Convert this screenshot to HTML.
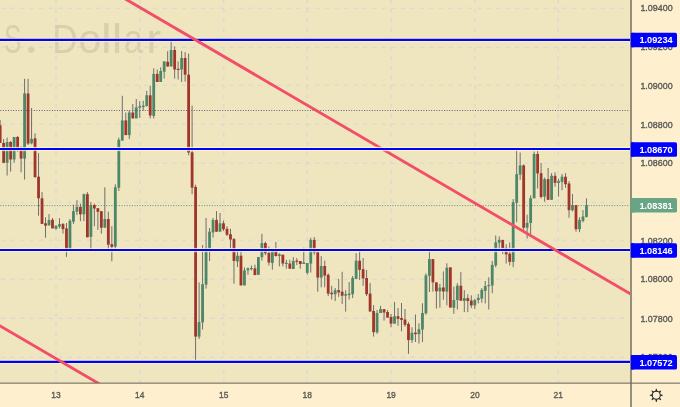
<!DOCTYPE html><html><head><meta charset="utf-8"><title>chart</title>
<style>html,body{margin:0;padding:0;background:#fef0cf;}body{width:680px;height:407px;overflow:hidden;}svg{display:block;}text{font-family:"Liberation Sans",sans-serif;}</style></head><body>
<svg width="680" height="407" viewBox="0 0 680 407">
<defs><clipPath id="cp"><rect x="0" y="0" width="630.0" height="383.0"/></clipPath>
<filter id="bl" x="-5%" y="-5%" width="110%" height="110%"><feGaussianBlur stdDeviation="0.35"/></filter>
<filter id="bt" x="-5%" y="-20%" width="110%" height="140%"><feGaussianBlur stdDeviation="0.25"/></filter>
</defs>
<rect width="680" height="407" fill="#fef0cf"/>
<rect x="0" y="0" width="630.0" height="383.0" fill="#efe5bf"/>
<g clip-path="url(#cp)">
<g fill="#d9cfad" font-size="40.2" filter="url(#bl)">
<text transform="translate(3.93,52.9) scale(0.649,1)">S</text>
<text transform="translate(52.29,52.9) scale(0.873,1)">D</text>
<text transform="translate(78.62,52.9) scale(1.021,1)">o</text>
<text transform="translate(101.04,52.9) scale(1.190,1)">l</text>
<text transform="translate(111.64,52.9) scale(1.190,1)">l</text>
<text transform="translate(123.75,52.9) scale(0.864,1)">a</text>
<text transform="translate(146.44,52.9) scale(1.094,1)">r</text>
<circle cx="31.25" cy="49.6" r="3.3"/>
</g>
<line x1="1.1" y1="8.2" x2="629.0" y2="8.2" stroke="#d7d7d6" stroke-width="1.1" stroke-dasharray="4.1 5.42"/>
<line x1="1.1" y1="47.2" x2="629.0" y2="47.2" stroke="#d7d7d6" stroke-width="1.1" stroke-dasharray="4.1 5.42"/>
<line x1="1.1" y1="85.3" x2="629.0" y2="85.3" stroke="#d7d7d6" stroke-width="1.1" stroke-dasharray="4.1 5.42"/>
<line x1="1.1" y1="124.3" x2="629.0" y2="124.3" stroke="#d7d7d6" stroke-width="1.1" stroke-dasharray="4.1 5.42"/>
<line x1="1.1" y1="163.2" x2="629.0" y2="163.2" stroke="#d7d7d6" stroke-width="1.1" stroke-dasharray="4.1 5.42"/>
<line x1="1.1" y1="202.2" x2="629.0" y2="202.2" stroke="#d7d7d6" stroke-width="1.1" stroke-dasharray="4.1 5.42"/>
<line x1="1.1" y1="240.3" x2="629.0" y2="240.3" stroke="#d7d7d6" stroke-width="1.1" stroke-dasharray="4.1 5.42"/>
<line x1="1.1" y1="279.2" x2="629.0" y2="279.2" stroke="#d7d7d6" stroke-width="1.1" stroke-dasharray="4.1 5.42"/>
<line x1="1.1" y1="318.4" x2="629.0" y2="318.4" stroke="#d7d7d6" stroke-width="1.1" stroke-dasharray="4.1 5.42"/>
<line x1="1.1" y1="357.2" x2="629.0" y2="357.2" stroke="#d7d7d6" stroke-width="1.1" stroke-dasharray="4.1 5.42"/>
<line x1="56.0" y1="-0.66" x2="56.0" y2="383.0" stroke="#d7d7d6" stroke-width="1.2" stroke-dasharray="3.9 5.61"/>
<line x1="139.8" y1="-0.66" x2="139.8" y2="383.0" stroke="#d7d7d6" stroke-width="1.2" stroke-dasharray="3.9 5.61"/>
<line x1="223.8" y1="-0.66" x2="223.8" y2="383.0" stroke="#d7d7d6" stroke-width="1.2" stroke-dasharray="3.9 5.61"/>
<line x1="307.2" y1="-0.66" x2="307.2" y2="383.0" stroke="#d7d7d6" stroke-width="1.2" stroke-dasharray="3.9 5.61"/>
<line x1="391.1" y1="-0.66" x2="391.1" y2="383.0" stroke="#d7d7d6" stroke-width="1.2" stroke-dasharray="3.9 5.61"/>
<line x1="475.0" y1="-0.66" x2="475.0" y2="383.0" stroke="#d7d7d6" stroke-width="1.2" stroke-dasharray="3.9 5.61"/>
<line x1="558.3" y1="-0.66" x2="558.3" y2="383.0" stroke="#d7d7d6" stroke-width="1.2" stroke-dasharray="3.9 5.61"/>
<line x1="0.3" y1="110.5" x2="629.5" y2="110.5" stroke="#62626e" stroke-width="1" stroke-dasharray="1 1.58"/>
<line x1="0.3" y1="205.6" x2="629.5" y2="205.6" stroke="#5b9877" stroke-width="1" stroke-dasharray="1 1.58"/>
<g filter="url(#bl)">
<line x1="0.15" y1="120.1" x2="0.15" y2="142.9" stroke="#6f6f6f" stroke-width="1"/>
<rect x="-1.25" y="125.3" width="2.8" height="17.6" fill="#a0362a"/>
<line x1="3.64" y1="139.0" x2="3.64" y2="162.8" stroke="#6f6f6f" stroke-width="1"/>
<rect x="2.24" y="142.9" width="2.8" height="19.9" fill="#a0362a"/>
<line x1="7.13" y1="137.7" x2="7.13" y2="175.5" stroke="#6f6f6f" stroke-width="1"/>
<rect x="5.73" y="142.0" width="2.8" height="20.8" fill="#4c8767"/>
<line x1="10.62" y1="141.0" x2="10.62" y2="171.7" stroke="#6f6f6f" stroke-width="1"/>
<rect x="9.22" y="142.0" width="2.8" height="17.5" fill="#a0362a"/>
<line x1="14.11" y1="137.0" x2="14.11" y2="162.8" stroke="#6f6f6f" stroke-width="1"/>
<rect x="12.71" y="137.0" width="2.8" height="22.5" fill="#4c8767"/>
<line x1="17.60" y1="136.0" x2="17.60" y2="151.7" stroke="#6f6f6f" stroke-width="1"/>
<rect x="16.20" y="137.0" width="2.8" height="11.8" fill="#a0362a"/>
<line x1="21.09" y1="146.3" x2="21.09" y2="172.3" stroke="#6f6f6f" stroke-width="1"/>
<rect x="19.69" y="148.8" width="2.8" height="9.8" fill="#a0362a"/>
<line x1="24.58" y1="78.8" x2="24.58" y2="179.6" stroke="#6f6f6f" stroke-width="1"/>
<rect x="23.18" y="93.5" width="2.8" height="65.1" fill="#4c8767"/>
<line x1="28.07" y1="78.8" x2="28.07" y2="145.0" stroke="#6f6f6f" stroke-width="1"/>
<rect x="26.67" y="93.5" width="2.8" height="50.1" fill="#a0362a"/>
<line x1="31.56" y1="108.0" x2="31.56" y2="144.3" stroke="#6f6f6f" stroke-width="1"/>
<rect x="30.16" y="138.9" width="2.8" height="4.4" fill="#4c8767"/>
<line x1="35.05" y1="133.3" x2="35.05" y2="178.0" stroke="#6f6f6f" stroke-width="1"/>
<rect x="33.65" y="138.4" width="2.8" height="38.6" fill="#a0362a"/>
<line x1="38.54" y1="153.2" x2="38.54" y2="215.7" stroke="#6f6f6f" stroke-width="1"/>
<rect x="37.14" y="176.7" width="2.8" height="21.6" fill="#a0362a"/>
<line x1="42.03" y1="192.1" x2="42.03" y2="223.9" stroke="#6f6f6f" stroke-width="1"/>
<rect x="40.63" y="198.3" width="2.8" height="25.6" fill="#a0362a"/>
<line x1="45.52" y1="217.3" x2="45.52" y2="237.7" stroke="#6f6f6f" stroke-width="1"/>
<rect x="44.12" y="223.3" width="2.8" height="2.4" fill="#a0362a"/>
<line x1="49.01" y1="214.1" x2="49.01" y2="225.4" stroke="#6f6f6f" stroke-width="1"/>
<rect x="47.61" y="220.0" width="2.8" height="5.4" fill="#4c8767"/>
<line x1="52.50" y1="218.0" x2="52.50" y2="228.4" stroke="#6f6f6f" stroke-width="1"/>
<rect x="51.10" y="219.8" width="2.8" height="8.6" fill="#a0362a"/>
<line x1="55.99" y1="225.0" x2="55.99" y2="229.5" stroke="#6f6f6f" stroke-width="1"/>
<rect x="54.59" y="225.9" width="2.8" height="3.0" fill="#4c8767"/>
<line x1="59.48" y1="218.2" x2="59.48" y2="228.4" stroke="#6f6f6f" stroke-width="1"/>
<rect x="58.08" y="224.1" width="2.8" height="2.5" fill="#4c8767"/>
<line x1="62.97" y1="223.0" x2="62.97" y2="233.6" stroke="#6f6f6f" stroke-width="1"/>
<rect x="61.57" y="224.1" width="2.8" height="5.0" fill="#a0362a"/>
<line x1="66.46" y1="223.0" x2="66.46" y2="256.9" stroke="#6f6f6f" stroke-width="1"/>
<rect x="65.06" y="228.4" width="2.8" height="21.1" fill="#a0362a"/>
<line x1="69.95" y1="219.1" x2="69.95" y2="249.5" stroke="#6f6f6f" stroke-width="1"/>
<rect x="68.55" y="220.7" width="2.8" height="28.8" fill="#4c8767"/>
<line x1="73.44" y1="204.7" x2="73.44" y2="224.0" stroke="#6f6f6f" stroke-width="1"/>
<rect x="72.04" y="211.2" width="2.8" height="10.5" fill="#4c8767"/>
<line x1="76.93" y1="200.2" x2="76.93" y2="215.1" stroke="#6f6f6f" stroke-width="1"/>
<rect x="75.53" y="206.9" width="2.8" height="4.8" fill="#4c8767"/>
<line x1="80.42" y1="203.6" x2="80.42" y2="221.2" stroke="#6f6f6f" stroke-width="1"/>
<rect x="79.02" y="206.9" width="2.8" height="7.4" fill="#a0362a"/>
<line x1="83.91" y1="193.6" x2="83.91" y2="221.2" stroke="#6f6f6f" stroke-width="1"/>
<rect x="82.51" y="194.2" width="2.8" height="20.1" fill="#4c8767"/>
<line x1="87.40" y1="192.1" x2="87.40" y2="237.3" stroke="#6f6f6f" stroke-width="1"/>
<rect x="86.00" y="194.2" width="2.8" height="43.1" fill="#a0362a"/>
<line x1="90.89" y1="202.1" x2="90.89" y2="249.5" stroke="#6f6f6f" stroke-width="1"/>
<rect x="89.49" y="205.0" width="2.8" height="31.8" fill="#4c8767"/>
<line x1="94.38" y1="203.6" x2="94.38" y2="226.2" stroke="#6f6f6f" stroke-width="1"/>
<rect x="92.98" y="205.0" width="2.8" height="3.5" fill="#a0362a"/>
<line x1="97.87" y1="208.2" x2="97.87" y2="229.9" stroke="#6f6f6f" stroke-width="1"/>
<rect x="96.47" y="208.2" width="2.8" height="3.6" fill="#a0362a"/>
<line x1="101.36" y1="211.2" x2="101.36" y2="233.6" stroke="#6f6f6f" stroke-width="1"/>
<rect x="99.96" y="211.2" width="2.8" height="16.5" fill="#a0362a"/>
<line x1="104.85" y1="187.3" x2="104.85" y2="227.7" stroke="#6f6f6f" stroke-width="1"/>
<rect x="103.45" y="219.0" width="2.8" height="8.7" fill="#4c8767"/>
<line x1="108.34" y1="211.6" x2="108.34" y2="249.0" stroke="#6f6f6f" stroke-width="1"/>
<rect x="106.94" y="219.0" width="2.8" height="25.7" fill="#a0362a"/>
<line x1="111.83" y1="226.2" x2="111.83" y2="261.3" stroke="#6f6f6f" stroke-width="1"/>
<rect x="110.43" y="244.2" width="2.8" height="2.7" fill="#a0362a"/>
<line x1="115.32" y1="184.3" x2="115.32" y2="249.5" stroke="#6f6f6f" stroke-width="1"/>
<rect x="113.92" y="187.3" width="2.8" height="59.3" fill="#4c8767"/>
<line x1="118.81" y1="137.6" x2="118.81" y2="191.0" stroke="#6f6f6f" stroke-width="1"/>
<rect x="117.41" y="139.8" width="2.8" height="47.9" fill="#4c8767"/>
<line x1="122.30" y1="95.8" x2="122.30" y2="140.6" stroke="#6f6f6f" stroke-width="1"/>
<rect x="120.90" y="120.4" width="2.8" height="20.2" fill="#4c8767"/>
<line x1="125.79" y1="112.5" x2="125.79" y2="135.1" stroke="#6f6f6f" stroke-width="1"/>
<rect x="124.39" y="120.4" width="2.8" height="14.7" fill="#a0362a"/>
<line x1="129.28" y1="110.3" x2="129.28" y2="139.1" stroke="#6f6f6f" stroke-width="1"/>
<rect x="127.88" y="112.5" width="2.8" height="22.6" fill="#4c8767"/>
<line x1="132.77" y1="104.1" x2="132.77" y2="118.4" stroke="#6f6f6f" stroke-width="1"/>
<rect x="131.37" y="112.5" width="2.8" height="5.9" fill="#a0362a"/>
<line x1="136.26" y1="99.0" x2="136.26" y2="118.4" stroke="#6f6f6f" stroke-width="1"/>
<rect x="134.86" y="107.4" width="2.8" height="11.0" fill="#4c8767"/>
<line x1="139.75" y1="101.2" x2="139.75" y2="118.0" stroke="#6f6f6f" stroke-width="1"/>
<rect x="138.35" y="106.2" width="2.8" height="1.5" fill="#4c8767"/>
<line x1="143.24" y1="100.7" x2="143.24" y2="110.6" stroke="#6f6f6f" stroke-width="1"/>
<rect x="141.84" y="105.6" width="2.8" height="1.5" fill="#4c8767"/>
<line x1="146.73" y1="90.9" x2="146.73" y2="106.2" stroke="#6f6f6f" stroke-width="1"/>
<rect x="145.33" y="95.3" width="2.8" height="10.9" fill="#4c8767"/>
<line x1="150.22" y1="85.7" x2="150.22" y2="118.4" stroke="#6f6f6f" stroke-width="1"/>
<rect x="148.82" y="95.3" width="2.8" height="20.2" fill="#a0362a"/>
<line x1="153.71" y1="68.3" x2="153.71" y2="118.4" stroke="#6f6f6f" stroke-width="1"/>
<rect x="152.31" y="73.9" width="2.8" height="42.0" fill="#4c8767"/>
<line x1="157.20" y1="69.5" x2="157.20" y2="82.0" stroke="#6f6f6f" stroke-width="1"/>
<rect x="155.80" y="73.9" width="2.8" height="8.1" fill="#a0362a"/>
<line x1="160.69" y1="67.3" x2="160.69" y2="82.0" stroke="#6f6f6f" stroke-width="1"/>
<rect x="159.29" y="71.0" width="2.8" height="11.0" fill="#4c8767"/>
<line x1="164.18" y1="61.4" x2="164.18" y2="78.6" stroke="#6f6f6f" stroke-width="1"/>
<rect x="162.78" y="61.4" width="2.8" height="10.3" fill="#4c8767"/>
<line x1="167.67" y1="51.1" x2="167.67" y2="66.5" stroke="#6f6f6f" stroke-width="1"/>
<rect x="166.27" y="61.8" width="2.8" height="4.7" fill="#a0362a"/>
<line x1="171.16" y1="41.0" x2="171.16" y2="66.5" stroke="#6f6f6f" stroke-width="1"/>
<rect x="169.76" y="50.0" width="2.8" height="16.5" fill="#4c8767"/>
<line x1="174.65" y1="46.6" x2="174.65" y2="78.6" stroke="#6f6f6f" stroke-width="1"/>
<rect x="173.25" y="50.0" width="2.8" height="19.5" fill="#a0362a"/>
<line x1="178.14" y1="61.4" x2="178.14" y2="79.5" stroke="#6f6f6f" stroke-width="1"/>
<rect x="176.74" y="68.8" width="2.8" height="1.2" fill="#a0362a"/>
<line x1="181.63" y1="51.0" x2="181.63" y2="82.0" stroke="#6f6f6f" stroke-width="1"/>
<rect x="180.23" y="58.0" width="2.8" height="11.5" fill="#4c8767"/>
<line x1="185.12" y1="52.1" x2="185.12" y2="81.6" stroke="#6f6f6f" stroke-width="1"/>
<rect x="183.72" y="58.0" width="2.8" height="16.7" fill="#a0362a"/>
<line x1="188.61" y1="53.6" x2="188.61" y2="155.3" stroke="#6f6f6f" stroke-width="1"/>
<rect x="187.21" y="74.7" width="2.8" height="77.8" fill="#a0362a"/>
<line x1="192.10" y1="105.6" x2="192.10" y2="194.2" stroke="#6f6f6f" stroke-width="1"/>
<rect x="190.70" y="152.3" width="2.8" height="35.3" fill="#a0362a"/>
<line x1="195.59" y1="184.7" x2="195.59" y2="360.0" stroke="#6f6f6f" stroke-width="1"/>
<rect x="194.19" y="186.9" width="2.8" height="149.7" fill="#a0362a"/>
<line x1="199.08" y1="282.4" x2="199.08" y2="339.1" stroke="#6f6f6f" stroke-width="1"/>
<rect x="197.68" y="322.1" width="2.8" height="14.5" fill="#4c8767"/>
<line x1="202.57" y1="245.0" x2="202.57" y2="329.5" stroke="#6f6f6f" stroke-width="1"/>
<rect x="201.17" y="284.2" width="2.8" height="38.2" fill="#4c8767"/>
<line x1="206.06" y1="218.0" x2="206.06" y2="288.6" stroke="#6f6f6f" stroke-width="1"/>
<rect x="204.66" y="247.9" width="2.8" height="36.8" fill="#4c8767"/>
<line x1="209.55" y1="228.0" x2="209.55" y2="261.0" stroke="#6f6f6f" stroke-width="1"/>
<rect x="208.15" y="231.7" width="2.8" height="16.7" fill="#4c8767"/>
<line x1="213.04" y1="218.0" x2="213.04" y2="237.6" stroke="#6f6f6f" stroke-width="1"/>
<rect x="211.64" y="219.9" width="2.8" height="12.5" fill="#4c8767"/>
<line x1="216.53" y1="211.1" x2="216.53" y2="231.7" stroke="#6f6f6f" stroke-width="1"/>
<rect x="215.13" y="219.9" width="2.8" height="11.8" fill="#a0362a"/>
<line x1="220.02" y1="213.0" x2="220.02" y2="231.7" stroke="#6f6f6f" stroke-width="1"/>
<rect x="218.62" y="223.3" width="2.8" height="8.4" fill="#4c8767"/>
<line x1="223.51" y1="220.6" x2="223.51" y2="231.0" stroke="#6f6f6f" stroke-width="1"/>
<rect x="222.11" y="223.3" width="2.8" height="5.9" fill="#a0362a"/>
<line x1="227.00" y1="226.3" x2="227.00" y2="236.1" stroke="#6f6f6f" stroke-width="1"/>
<rect x="225.60" y="228.8" width="2.8" height="5.9" fill="#a0362a"/>
<line x1="230.49" y1="228.8" x2="230.49" y2="251.6" stroke="#6f6f6f" stroke-width="1"/>
<rect x="229.09" y="234.2" width="2.8" height="5.3" fill="#a0362a"/>
<line x1="233.98" y1="238.0" x2="233.98" y2="283.6" stroke="#6f6f6f" stroke-width="1"/>
<rect x="232.58" y="239.1" width="2.8" height="21.9" fill="#a0362a"/>
<line x1="237.47" y1="250.9" x2="237.47" y2="267.0" stroke="#6f6f6f" stroke-width="1"/>
<rect x="236.07" y="255.7" width="2.8" height="5.8" fill="#4c8767"/>
<line x1="240.96" y1="251.6" x2="240.96" y2="285.4" stroke="#6f6f6f" stroke-width="1"/>
<rect x="239.56" y="255.7" width="2.8" height="29.7" fill="#a0362a"/>
<line x1="244.45" y1="267.4" x2="244.45" y2="285.4" stroke="#6f6f6f" stroke-width="1"/>
<rect x="243.05" y="270.4" width="2.8" height="15.0" fill="#4c8767"/>
<line x1="247.94" y1="267.4" x2="247.94" y2="274.8" stroke="#6f6f6f" stroke-width="1"/>
<rect x="246.54" y="268.4" width="2.8" height="2.0" fill="#4c8767"/>
<line x1="251.43" y1="265.5" x2="251.43" y2="270.4" stroke="#6f6f6f" stroke-width="1"/>
<rect x="250.03" y="268.0" width="2.8" height="1.2" fill="#4c8767"/>
<line x1="254.92" y1="264.7" x2="254.92" y2="275.1" stroke="#6f6f6f" stroke-width="1"/>
<rect x="253.52" y="268.4" width="2.8" height="6.7" fill="#a0362a"/>
<line x1="258.41" y1="257.0" x2="258.41" y2="274.8" stroke="#6f6f6f" stroke-width="1"/>
<rect x="257.01" y="257.0" width="2.8" height="17.8" fill="#4c8767"/>
<line x1="261.90" y1="233.9" x2="261.90" y2="260.6" stroke="#6f6f6f" stroke-width="1"/>
<rect x="260.50" y="243.1" width="2.8" height="14.0" fill="#4c8767"/>
<line x1="265.39" y1="241.6" x2="265.39" y2="255.2" stroke="#6f6f6f" stroke-width="1"/>
<rect x="263.99" y="243.1" width="2.8" height="10.2" fill="#a0362a"/>
<line x1="268.88" y1="246.5" x2="268.88" y2="265.5" stroke="#6f6f6f" stroke-width="1"/>
<rect x="267.48" y="252.8" width="2.8" height="9.7" fill="#a0362a"/>
<line x1="272.37" y1="250.5" x2="272.37" y2="269.6" stroke="#6f6f6f" stroke-width="1"/>
<rect x="270.97" y="250.5" width="2.8" height="12.4" fill="#4c8767"/>
<line x1="275.86" y1="241.9" x2="275.86" y2="256.6" stroke="#6f6f6f" stroke-width="1"/>
<rect x="274.46" y="250.5" width="2.8" height="5.5" fill="#a0362a"/>
<line x1="279.35" y1="253.2" x2="279.35" y2="266.3" stroke="#6f6f6f" stroke-width="1"/>
<rect x="277.95" y="254.3" width="2.8" height="1.7" fill="#4c8767"/>
<line x1="282.84" y1="254.7" x2="282.84" y2="266.5" stroke="#6f6f6f" stroke-width="1"/>
<rect x="281.44" y="254.7" width="2.8" height="8.8" fill="#a0362a"/>
<line x1="286.33" y1="259.8" x2="286.33" y2="268.7" stroke="#6f6f6f" stroke-width="1"/>
<rect x="284.93" y="262.8" width="2.8" height="1.2" fill="#4c8767"/>
<line x1="289.82" y1="259.8" x2="289.82" y2="268.7" stroke="#6f6f6f" stroke-width="1"/>
<rect x="288.42" y="263.5" width="2.8" height="5.2" fill="#a0362a"/>
<line x1="293.31" y1="257.2" x2="293.31" y2="269.0" stroke="#6f6f6f" stroke-width="1"/>
<rect x="291.91" y="261.0" width="2.8" height="8.0" fill="#4c8767"/>
<line x1="296.80" y1="258.0" x2="296.80" y2="265.0" stroke="#6f6f6f" stroke-width="1"/>
<rect x="295.40" y="260.6" width="2.8" height="1.2" fill="#a0362a"/>
<line x1="300.29" y1="261.0" x2="300.29" y2="268.7" stroke="#6f6f6f" stroke-width="1"/>
<rect x="298.89" y="261.0" width="2.8" height="3.0" fill="#a0362a"/>
<line x1="303.78" y1="247.7" x2="303.78" y2="264.0" stroke="#6f6f6f" stroke-width="1"/>
<rect x="302.38" y="262.5" width="2.8" height="1.5" fill="#4c8767"/>
<line x1="307.27" y1="263.0" x2="307.27" y2="274.6" stroke="#6f6f6f" stroke-width="1"/>
<rect x="305.87" y="263.0" width="2.8" height="9.8" fill="#4c8767"/>
<line x1="310.76" y1="237.7" x2="310.76" y2="272.5" stroke="#6f6f6f" stroke-width="1"/>
<rect x="309.36" y="239.9" width="2.8" height="23.6" fill="#4c8767"/>
<line x1="314.25" y1="237.0" x2="314.25" y2="254.7" stroke="#6f6f6f" stroke-width="1"/>
<rect x="312.85" y="239.9" width="2.8" height="12.5" fill="#a0362a"/>
<line x1="317.74" y1="248.8" x2="317.74" y2="291.7" stroke="#6f6f6f" stroke-width="1"/>
<rect x="316.34" y="252.2" width="2.8" height="25.4" fill="#a0362a"/>
<line x1="321.23" y1="256.1" x2="321.23" y2="287.3" stroke="#6f6f6f" stroke-width="1"/>
<rect x="319.83" y="266.0" width="2.8" height="11.6" fill="#4c8767"/>
<line x1="324.72" y1="260.6" x2="324.72" y2="287.3" stroke="#6f6f6f" stroke-width="1"/>
<rect x="323.32" y="266.0" width="2.8" height="9.6" fill="#a0362a"/>
<line x1="328.21" y1="273.3" x2="328.21" y2="296.1" stroke="#6f6f6f" stroke-width="1"/>
<rect x="326.81" y="274.8" width="2.8" height="18.8" fill="#a0362a"/>
<line x1="331.70" y1="285.8" x2="331.70" y2="299.5" stroke="#6f6f6f" stroke-width="1"/>
<rect x="330.30" y="292.7" width="2.8" height="1.5" fill="#a0362a"/>
<line x1="335.19" y1="288.0" x2="335.19" y2="301.0" stroke="#6f6f6f" stroke-width="1"/>
<rect x="333.79" y="290.2" width="2.8" height="4.0" fill="#4c8767"/>
<line x1="338.68" y1="278.9" x2="338.68" y2="296.9" stroke="#6f6f6f" stroke-width="1"/>
<rect x="337.28" y="290.2" width="2.8" height="2.2" fill="#a0362a"/>
<line x1="342.17" y1="271.8" x2="342.17" y2="304.0" stroke="#6f6f6f" stroke-width="1"/>
<rect x="340.77" y="291.7" width="2.8" height="4.0" fill="#a0362a"/>
<line x1="345.66" y1="290.2" x2="345.66" y2="311.6" stroke="#6f6f6f" stroke-width="1"/>
<rect x="344.26" y="294.2" width="2.8" height="1.5" fill="#4c8767"/>
<line x1="349.15" y1="282.1" x2="349.15" y2="299.5" stroke="#6f6f6f" stroke-width="1"/>
<rect x="347.75" y="293.6" width="2.8" height="1.5" fill="#4c8767"/>
<line x1="352.64" y1="276.0" x2="352.64" y2="298.0" stroke="#6f6f6f" stroke-width="1"/>
<rect x="351.24" y="278.0" width="2.8" height="16.2" fill="#4c8767"/>
<line x1="356.13" y1="253.2" x2="356.13" y2="278.9" stroke="#6f6f6f" stroke-width="1"/>
<rect x="354.73" y="260.7" width="2.8" height="18.2" fill="#4c8767"/>
<line x1="359.62" y1="251.0" x2="359.62" y2="280.0" stroke="#6f6f6f" stroke-width="1"/>
<rect x="358.22" y="260.7" width="2.8" height="9.1" fill="#a0362a"/>
<line x1="363.11" y1="258.0" x2="363.11" y2="285.8" stroke="#6f6f6f" stroke-width="1"/>
<rect x="361.71" y="269.2" width="2.8" height="9.2" fill="#a0362a"/>
<line x1="366.60" y1="270.0" x2="366.60" y2="296.1" stroke="#6f6f6f" stroke-width="1"/>
<rect x="365.20" y="278.0" width="2.8" height="16.2" fill="#a0362a"/>
<line x1="370.09" y1="282.9" x2="370.09" y2="311.5" stroke="#6f6f6f" stroke-width="1"/>
<rect x="368.69" y="293.6" width="2.8" height="17.9" fill="#a0362a"/>
<line x1="373.58" y1="305.2" x2="373.58" y2="336.6" stroke="#6f6f6f" stroke-width="1"/>
<rect x="372.18" y="311.0" width="2.8" height="21.2" fill="#a0362a"/>
<line x1="377.07" y1="310.0" x2="377.07" y2="333.9" stroke="#6f6f6f" stroke-width="1"/>
<rect x="375.67" y="313.0" width="2.8" height="19.2" fill="#4c8767"/>
<line x1="380.56" y1="305.8" x2="380.56" y2="313.0" stroke="#6f6f6f" stroke-width="1"/>
<rect x="379.16" y="309.1" width="2.8" height="3.9" fill="#4c8767"/>
<line x1="384.05" y1="309.1" x2="384.05" y2="320.6" stroke="#6f6f6f" stroke-width="1"/>
<rect x="382.65" y="309.1" width="2.8" height="3.4" fill="#a0362a"/>
<line x1="387.54" y1="310.1" x2="387.54" y2="317.6" stroke="#6f6f6f" stroke-width="1"/>
<rect x="386.14" y="312.0" width="2.8" height="5.6" fill="#a0362a"/>
<line x1="391.03" y1="314.0" x2="391.03" y2="327.3" stroke="#6f6f6f" stroke-width="1"/>
<rect x="389.63" y="317.0" width="2.8" height="6.6" fill="#a0362a"/>
<line x1="394.52" y1="301.9" x2="394.52" y2="323.6" stroke="#6f6f6f" stroke-width="1"/>
<rect x="393.12" y="316.2" width="2.8" height="7.4" fill="#4c8767"/>
<line x1="398.01" y1="308.0" x2="398.01" y2="325.8" stroke="#6f6f6f" stroke-width="1"/>
<rect x="396.61" y="316.2" width="2.8" height="2.7" fill="#a0362a"/>
<line x1="401.50" y1="303.0" x2="401.50" y2="331.3" stroke="#6f6f6f" stroke-width="1"/>
<rect x="400.10" y="318.0" width="2.8" height="1.9" fill="#a0362a"/>
<line x1="404.99" y1="309.0" x2="404.99" y2="326.8" stroke="#6f6f6f" stroke-width="1"/>
<rect x="403.59" y="319.5" width="2.8" height="5.3" fill="#a0362a"/>
<line x1="408.48" y1="322.1" x2="408.48" y2="353.8" stroke="#6f6f6f" stroke-width="1"/>
<rect x="407.08" y="323.9" width="2.8" height="16.2" fill="#a0362a"/>
<line x1="411.97" y1="327.3" x2="411.97" y2="342.8" stroke="#6f6f6f" stroke-width="1"/>
<rect x="410.57" y="332.7" width="2.8" height="7.4" fill="#4c8767"/>
<line x1="415.46" y1="314.5" x2="415.46" y2="342.0" stroke="#6f6f6f" stroke-width="1"/>
<rect x="414.06" y="332.7" width="2.8" height="1.5" fill="#a0362a"/>
<line x1="418.95" y1="323.3" x2="418.95" y2="343.5" stroke="#6f6f6f" stroke-width="1"/>
<rect x="417.55" y="329.2" width="2.8" height="5.0" fill="#4c8767"/>
<line x1="422.44" y1="303.3" x2="422.44" y2="342.0" stroke="#6f6f6f" stroke-width="1"/>
<rect x="421.04" y="313.0" width="2.8" height="16.5" fill="#4c8767"/>
<line x1="425.93" y1="273.3" x2="425.93" y2="314.7" stroke="#6f6f6f" stroke-width="1"/>
<rect x="424.53" y="275.4" width="2.8" height="37.9" fill="#4c8767"/>
<line x1="429.42" y1="251.5" x2="429.42" y2="292.0" stroke="#6f6f6f" stroke-width="1"/>
<rect x="428.02" y="259.1" width="2.8" height="16.7" fill="#4c8767"/>
<line x1="432.91" y1="259.1" x2="432.91" y2="291.6" stroke="#6f6f6f" stroke-width="1"/>
<rect x="431.51" y="259.1" width="2.8" height="23.3" fill="#a0362a"/>
<line x1="436.40" y1="282.4" x2="436.40" y2="308.6" stroke="#6f6f6f" stroke-width="1"/>
<rect x="435.00" y="282.4" width="2.8" height="8.9" fill="#a0362a"/>
<line x1="439.89" y1="283.9" x2="439.89" y2="307.7" stroke="#6f6f6f" stroke-width="1"/>
<rect x="438.49" y="287.6" width="2.8" height="3.7" fill="#4c8767"/>
<line x1="443.38" y1="271.4" x2="443.38" y2="299.7" stroke="#6f6f6f" stroke-width="1"/>
<rect x="441.98" y="287.5" width="2.8" height="4.0" fill="#a0362a"/>
<line x1="446.87" y1="263.3" x2="446.87" y2="305.3" stroke="#6f6f6f" stroke-width="1"/>
<rect x="445.47" y="267.7" width="2.8" height="23.9" fill="#4c8767"/>
<line x1="450.36" y1="267.4" x2="450.36" y2="307.6" stroke="#6f6f6f" stroke-width="1"/>
<rect x="448.96" y="267.4" width="2.8" height="40.2" fill="#a0362a"/>
<line x1="453.85" y1="286.7" x2="453.85" y2="313.8" stroke="#6f6f6f" stroke-width="1"/>
<rect x="452.45" y="300.0" width="2.8" height="7.7" fill="#4c8767"/>
<line x1="457.34" y1="283.2" x2="457.34" y2="309.5" stroke="#6f6f6f" stroke-width="1"/>
<rect x="455.94" y="285.7" width="2.8" height="14.3" fill="#4c8767"/>
<line x1="460.83" y1="272.1" x2="460.83" y2="300.7" stroke="#6f6f6f" stroke-width="1"/>
<rect x="459.43" y="285.7" width="2.8" height="15.0" fill="#a0362a"/>
<line x1="464.32" y1="290.2" x2="464.32" y2="312.1" stroke="#6f6f6f" stroke-width="1"/>
<rect x="462.92" y="298.1" width="2.8" height="2.9" fill="#4c8767"/>
<line x1="467.81" y1="294.3" x2="467.81" y2="312.1" stroke="#6f6f6f" stroke-width="1"/>
<rect x="466.41" y="298.1" width="2.8" height="2.9" fill="#a0362a"/>
<line x1="471.30" y1="295.3" x2="471.30" y2="308.0" stroke="#6f6f6f" stroke-width="1"/>
<rect x="469.90" y="300.5" width="2.8" height="4.9" fill="#a0362a"/>
<line x1="474.79" y1="298.8" x2="474.79" y2="309.0" stroke="#6f6f6f" stroke-width="1"/>
<rect x="473.39" y="300.0" width="2.8" height="5.4" fill="#4c8767"/>
<line x1="478.28" y1="294.0" x2="478.28" y2="303.4" stroke="#6f6f6f" stroke-width="1"/>
<rect x="476.88" y="297.9" width="2.8" height="2.1" fill="#4c8767"/>
<line x1="481.77" y1="288.1" x2="481.77" y2="302.6" stroke="#6f6f6f" stroke-width="1"/>
<rect x="480.37" y="289.9" width="2.8" height="8.7" fill="#4c8767"/>
<line x1="485.26" y1="281.0" x2="485.26" y2="303.4" stroke="#6f6f6f" stroke-width="1"/>
<rect x="483.86" y="286.1" width="2.8" height="4.7" fill="#4c8767"/>
<line x1="488.75" y1="277.3" x2="488.75" y2="309.5" stroke="#6f6f6f" stroke-width="1"/>
<rect x="487.35" y="285.0" width="2.8" height="1.2" fill="#4c8767"/>
<line x1="492.24" y1="261.0" x2="492.24" y2="293.2" stroke="#6f6f6f" stroke-width="1"/>
<rect x="490.84" y="264.9" width="2.8" height="20.6" fill="#4c8767"/>
<line x1="495.73" y1="235.5" x2="495.73" y2="267.3" stroke="#6f6f6f" stroke-width="1"/>
<rect x="494.33" y="242.4" width="2.8" height="23.0" fill="#4c8767"/>
<line x1="499.22" y1="236.3" x2="499.22" y2="249.0" stroke="#6f6f6f" stroke-width="1"/>
<rect x="497.82" y="239.9" width="2.8" height="2.8" fill="#4c8767"/>
<line x1="502.71" y1="239.9" x2="502.71" y2="254.0" stroke="#6f6f6f" stroke-width="1"/>
<rect x="501.31" y="239.9" width="2.8" height="8.5" fill="#a0362a"/>
<line x1="506.20" y1="244.3" x2="506.20" y2="263.5" stroke="#6f6f6f" stroke-width="1"/>
<rect x="504.80" y="247.9" width="2.8" height="6.5" fill="#a0362a"/>
<line x1="509.69" y1="242.4" x2="509.69" y2="265.4" stroke="#6f6f6f" stroke-width="1"/>
<rect x="508.29" y="253.7" width="2.8" height="8.1" fill="#a0362a"/>
<line x1="513.18" y1="199.0" x2="513.18" y2="267.2" stroke="#6f6f6f" stroke-width="1"/>
<rect x="511.78" y="202.2" width="2.8" height="59.7" fill="#4c8767"/>
<line x1="516.67" y1="149.6" x2="516.67" y2="222.1" stroke="#6f6f6f" stroke-width="1"/>
<rect x="515.27" y="174.2" width="2.8" height="28.5" fill="#4c8767"/>
<line x1="520.16" y1="152.5" x2="520.16" y2="179.8" stroke="#6f6f6f" stroke-width="1"/>
<rect x="518.76" y="165.4" width="2.8" height="9.3" fill="#4c8767"/>
<line x1="523.65" y1="164.3" x2="523.65" y2="230.2" stroke="#6f6f6f" stroke-width="1"/>
<rect x="522.25" y="165.4" width="2.8" height="62.3" fill="#a0362a"/>
<line x1="527.14" y1="214.7" x2="527.14" y2="238.5" stroke="#6f6f6f" stroke-width="1"/>
<rect x="525.74" y="222.9" width="2.8" height="4.8" fill="#4c8767"/>
<line x1="530.63" y1="195.3" x2="530.63" y2="234.4" stroke="#6f6f6f" stroke-width="1"/>
<rect x="529.23" y="198.2" width="2.8" height="24.8" fill="#4c8767"/>
<line x1="534.12" y1="151.5" x2="534.12" y2="198.3" stroke="#6f6f6f" stroke-width="1"/>
<rect x="532.72" y="154.0" width="2.8" height="44.3" fill="#4c8767"/>
<line x1="537.61" y1="151.0" x2="537.61" y2="188.5" stroke="#6f6f6f" stroke-width="1"/>
<rect x="536.21" y="154.0" width="2.8" height="19.4" fill="#a0362a"/>
<line x1="541.10" y1="162.9" x2="541.10" y2="198.5" stroke="#6f6f6f" stroke-width="1"/>
<rect x="539.70" y="173.2" width="2.8" height="23.8" fill="#a0362a"/>
<line x1="544.59" y1="177.6" x2="544.59" y2="201.7" stroke="#6f6f6f" stroke-width="1"/>
<rect x="543.19" y="179.1" width="2.8" height="17.5" fill="#4c8767"/>
<line x1="548.08" y1="168.0" x2="548.08" y2="199.8" stroke="#6f6f6f" stroke-width="1"/>
<rect x="546.68" y="179.1" width="2.8" height="20.7" fill="#a0362a"/>
<line x1="551.57" y1="173.2" x2="551.57" y2="199.8" stroke="#6f6f6f" stroke-width="1"/>
<rect x="550.17" y="175.8" width="2.8" height="24.0" fill="#4c8767"/>
<line x1="555.06" y1="172.3" x2="555.06" y2="186.8" stroke="#6f6f6f" stroke-width="1"/>
<rect x="553.66" y="175.8" width="2.8" height="7.1" fill="#a0362a"/>
<line x1="558.55" y1="178.7" x2="558.55" y2="196.6" stroke="#6f6f6f" stroke-width="1"/>
<rect x="557.15" y="181.1" width="2.8" height="1.8" fill="#4c8767"/>
<line x1="562.04" y1="174.0" x2="562.04" y2="190.2" stroke="#6f6f6f" stroke-width="1"/>
<rect x="560.64" y="176.7" width="2.8" height="5.2" fill="#4c8767"/>
<line x1="565.53" y1="173.2" x2="565.53" y2="187.8" stroke="#6f6f6f" stroke-width="1"/>
<rect x="564.13" y="176.7" width="2.8" height="7.5" fill="#a0362a"/>
<line x1="569.02" y1="181.1" x2="569.02" y2="217.8" stroke="#6f6f6f" stroke-width="1"/>
<rect x="567.62" y="183.5" width="2.8" height="26.7" fill="#a0362a"/>
<line x1="572.51" y1="194.0" x2="572.51" y2="211.5" stroke="#6f6f6f" stroke-width="1"/>
<rect x="571.11" y="205.1" width="2.8" height="5.1" fill="#4c8767"/>
<line x1="576.00" y1="205.1" x2="576.00" y2="231.7" stroke="#6f6f6f" stroke-width="1"/>
<rect x="574.60" y="205.1" width="2.8" height="24.1" fill="#a0362a"/>
<line x1="579.49" y1="217.3" x2="579.49" y2="232.2" stroke="#6f6f6f" stroke-width="1"/>
<rect x="578.09" y="219.9" width="2.8" height="9.3" fill="#4c8767"/>
<line x1="582.98" y1="210.1" x2="582.98" y2="222.4" stroke="#6f6f6f" stroke-width="1"/>
<rect x="581.58" y="216.5" width="2.8" height="4.4" fill="#4c8767"/>
<line x1="586.47" y1="198.3" x2="586.47" y2="217.5" stroke="#6f6f6f" stroke-width="1"/>
<rect x="585.07" y="205.1" width="2.8" height="11.8" fill="#4c8767"/>
</g>
<rect x="0" y="37.75" width="630.0" height="4.3" fill="#fff9c4" opacity="0.75"/>
<line x1="0" y1="39.90" x2="631.0" y2="39.90" stroke="#0000ff" stroke-width="2.1"/>
<rect x="0" y="247.90" width="630.0" height="4.3" fill="#fff9c4" opacity="0.75"/>
<line x1="0" y1="250.05" x2="631.0" y2="250.05" stroke="#0000ff" stroke-width="2.1"/>
<rect x="0" y="359.75" width="630.0" height="4.3" fill="#fff9c4" opacity="0.75"/>
<line x1="0" y1="361.90" x2="631.0" y2="361.90" stroke="#0000ff" stroke-width="2.1"/>
<line x1="107.1" y1="-11.68" x2="640.0" y2="299.46" stroke="#f24e68" stroke-width="2.9" stroke-linecap="butt"/>
<line x1="-10.0" y1="320.06" x2="110.0" y2="390.13" stroke="#f24e68" stroke-width="2.9" stroke-linecap="butt"/>
<rect x="0" y="146.85" width="630.0" height="4.3" fill="#fff9c4" opacity="0.75"/>
<line x1="0" y1="149.00" x2="631.0" y2="149.00" stroke="#0000ff" stroke-width="2.1"/>
</g>
<rect x="630" y="0" width="2" height="407" fill="#958e7b"/>
<rect x="0" y="382.6" width="680" height="1.1" fill="#726e60"/>
<g filter="url(#bt)" fill="#5c5c58" stroke="#5c5c58" stroke-width="0.4" font-size="9.89">
<text transform="translate(640.40,11.40) scale(0.9006,1)">1.09400</text>
<text transform="translate(640.40,50.40) scale(0.9006,1)">1.09200</text>
<text transform="translate(640.40,88.50) scale(0.9006,1)">1.09000</text>
<text transform="translate(640.40,127.50) scale(0.9006,1)">1.08800</text>
<text transform="translate(640.40,166.40) scale(0.9006,1)">1.08600</text>
<text transform="translate(640.40,205.40) scale(0.9006,1)">1.08400</text>
<text transform="translate(640.40,243.50) scale(0.9006,1)">1.08200</text>
<text transform="translate(640.40,282.40) scale(0.9006,1)">1.08000</text>
<text transform="translate(640.40,321.60) scale(0.9006,1)">1.07800</text>
<text transform="translate(640.40,360.40) scale(0.9006,1)">1.07600</text>
<text transform="translate(51.32,397.60) scale(0.851,1)">13</text>
<text transform="translate(135.12,397.60) scale(0.851,1)">14</text>
<text transform="translate(219.12,397.60) scale(0.851,1)">15</text>
<text transform="translate(302.52,397.60) scale(0.851,1)">18</text>
<text transform="translate(386.42,397.60) scale(0.851,1)">19</text>
<text transform="translate(470.32,397.60) scale(0.851,1)">20</text>
<text transform="translate(553.62,397.60) scale(0.851,1)">21</text>
</g>
<rect x="630.9" y="32.80" width="46.1" height="14.5" rx="1.6" fill="#0000ff"/>
<rect x="630.9" y="32.80" width="3" height="14.5" fill="#0000ff"/>
<g filter="url(#bt)">
<text transform="translate(639.44,43.45) scale(0.9595,1)" font-size="9.605" font-weight="bold" fill="#ffffff">1.09234</text>
</g>
<rect x="630.9" y="142.25" width="46.1" height="14.5" rx="1.6" fill="#0000ff"/>
<rect x="630.9" y="142.25" width="3" height="14.5" fill="#0000ff"/>
<g filter="url(#bt)">
<text transform="translate(639.44,152.90) scale(0.9595,1)" font-size="9.605" font-weight="bold" fill="#ffffff">1.08670</text>
</g>
<rect x="630.9" y="198.10" width="46.1" height="14.5" rx="1.6" fill="#67a584"/>
<rect x="630.9" y="198.10" width="3" height="14.5" fill="#67a584"/>
<g filter="url(#bt)">
<text transform="translate(639.44,208.75) scale(0.9595,1)" font-size="9.605" font-weight="bold" fill="#ffffff">1.08381</text>
</g>
<rect x="630.9" y="243.15" width="46.1" height="14.5" rx="1.6" fill="#0000ff"/>
<rect x="630.9" y="243.15" width="3" height="14.5" fill="#0000ff"/>
<g filter="url(#bt)">
<text transform="translate(639.44,253.80) scale(0.9595,1)" font-size="9.605" font-weight="bold" fill="#ffffff">1.08146</text>
</g>
<rect x="630.9" y="355.05" width="46.1" height="14.5" rx="1.6" fill="#0000ff"/>
<rect x="630.9" y="355.05" width="3" height="14.5" fill="#0000ff"/>
<g filter="url(#bt)">
<text transform="translate(639.44,365.70) scale(0.9595,1)" font-size="9.605" font-weight="bold" fill="#ffffff">1.07572</text>
</g>
<g><circle cx="656.3" cy="395.3" r="4.0" stroke="#20222c" fill="none" stroke-width="1.05"/><polygon points="660.60,394.30 662.90,395.00 662.90,395.60 660.60,396.30" fill="#20222c"/><polygon points="660.05,397.63 661.18,399.75 660.75,400.18 658.63,399.05" fill="#20222c"/><polygon points="657.30,399.60 656.60,401.90 656.00,401.90 655.30,399.60" fill="#20222c"/><polygon points="653.97,399.05 651.85,400.18 651.42,399.75 652.55,397.63" fill="#20222c"/><polygon points="652.00,396.30 649.70,395.60 649.70,395.00 652.00,394.30" fill="#20222c"/><polygon points="652.55,392.97 651.42,390.85 651.85,390.42 653.97,391.55" fill="#20222c"/><polygon points="655.30,391.00 656.00,388.70 656.60,388.70 657.30,391.00" fill="#20222c"/><polygon points="658.63,391.55 660.75,390.42 661.18,390.85 660.05,392.97" fill="#20222c"/></g>
</svg></body></html>
